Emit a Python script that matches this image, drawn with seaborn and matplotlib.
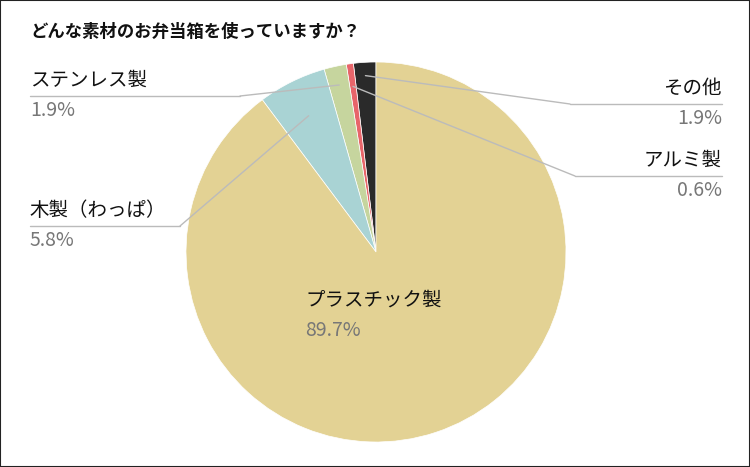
import numpy as np
import matplotlib
matplotlib.use("Agg")
import matplotlib.pyplot as plt
import seaborn as sns

sns.set_theme(style="white")
plt.rcParams["font.family"] = "Noto Sans CJK JP"

categories = ["その他", "アルミ製", "ステンレス製", "木製（わっぱ）", "プラスチック製"]
values = [1.9, 0.6, 1.9, 5.8, 89.7]
colors = ["#2a2a2a", "#e8656a", "#c6d59e", "#a9d3d4", "#e3d294"]
title = "どんな素材のお弁当箱を使っていますか？"

fig = plt.figure(figsize=(7.5, 4.67), dpi=100)
ax = fig.add_axes([0, 0, 1, 1])
cx, cy, r = 376, 215, 190
wedges, _ = ax.pie(values, colors=colors, startangle=90, counterclock=True,
                   center=(cx, cy), radius=r, frame=True,
                   wedgeprops=dict(linewidth=0.5, edgecolor="white"))
ax.set_xlim(0, 750); ax.set_ylim(0, 467); ax.axis("off")

fig.text(30 / 750, 1 - 32 / 467, title, fontsize=12.5, fontweight="bold", va="center", color="#111")

layout = {
    "その他": (722, 88, "right", 570, 0.93),
    "アルミ製": (722, 160, "right", 575, 0.88),
    "ステンレス製": (30, 80, "left", 240, 0.9),
    "木製（わっぱ）": (30, 210, "left", 180, 0.8),
}
fs = 14
for w, cat, v in zip(wedges, categories, values):
    if cat == "プラスチック製":
        ax.text(305, 467 - 300, cat, fontsize=fs, ha="left", va="center", color="#111")
        ax.text(305, 467 - 331, f"{v}%", fontsize=fs, ha="left", va="center", color="#777")
        continue
    tx, ty, ha, lx, fr = layout[cat]
    mid = np.deg2rad((w.theta1 + w.theta2) / 2)
    px, py = cx + r * fr * np.cos(mid), cy + r * fr * np.sin(mid)
    ly = 467 - (ty + 16)
    ax.plot([px, lx], [py, ly], color="#bbbbbb", lw=1)
    ax.plot(sorted([lx, tx]), [ly, ly], color="#bbbbbb", lw=1)
    ax.text(tx, 467 - ty, cat, fontsize=fs, ha=ha, va="center", color="#111")
    ax.text(tx, 467 - (ty + 31), f"{v}%", fontsize=fs, ha=ha, va="center", color="#777")

fig.patches.append(plt.Rectangle((0, 0), 1, 1, transform=fig.transFigure,
                                 fill=False, edgecolor="#222", lw=1.5))
fig.savefig("out.png", dpi=100)
